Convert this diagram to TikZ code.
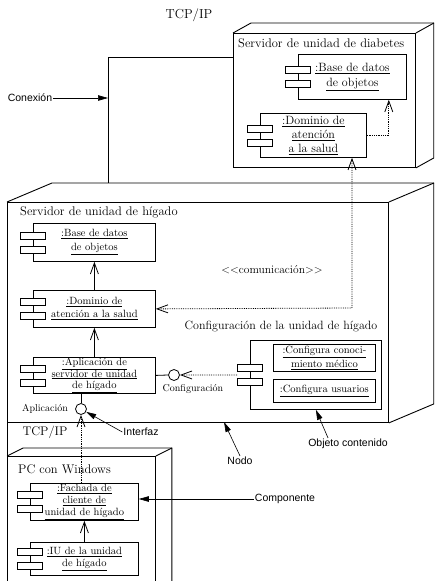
\documentclass[tikz,border=0pt]{standalone}
\usepackage{fontspec}
\newfontfamily\labelfont{Liberation Sans}
\usetikzlibrary{arrows.meta,positioning,calc}

\begin{document}
\begin{tikzpicture}[x=1pt,y=-1pt,
      nodo/.style={draw,line width=0.9pt,anchor=north west,inner sep=0pt},
      back/.style={line width=0.9pt},
      comp/.style={draw,fill=white,line width=0.8pt,anchor=north west,align=center,
                   inner sep=0pt,font=\fontsize{10.5}{11.8}\selectfont},
      bigcomp/.style={comp,font=\fontsize{12}{14.5}\selectfont},
      iconbox/.style={draw,fill=white,line width=0.7pt},
      lolli/.style={circle,draw,fill=white,line width=0.8pt,minimum size=11pt,inner sep=0pt},
      ttl/.style={font=\fontsize{12.5}{15}\selectfont,inner sep=0pt},
      lbl/.style={font=\fontsize{10}{12}\selectfont,inner sep=0pt},
      callout/.style={font=\labelfont\fontsize{10.5}{12}\selectfont,inner sep=1pt},
      dep/.style={densely dotted,line width=0.8pt,-{Straight Barb[length=11pt,width=8pt]}},
      depboth/.style={densely dotted,line width=0.8pt,
                      {Straight Barb[length=11pt,width=8pt]}-{Straight Barb[length=11pt,width=8pt]}},
      dlink/.style={line width=0.8pt,-{Straight Barb[length=11pt,width=8pt]}},
      ptr/.style={line width=0.6pt,-{Triangle[length=10pt,width=5.5pt]}},
    ]
    \useasboundingbox (0,0) rectangle (434,581);
    \clip (0,0) rectangle (434,581);

    % nodes (3d boxes)
    \node[nodo,minimum width=182pt,minimum height=134pt] (diab) at (233,33) {};
    \draw[back] (diab.north west) -- ++(18,-10) -| ($(diab.south east)+(18,-10)$) -- (diab.south east);
    \draw[back] (diab.north east) -- ++(18,-10);

    \node[nodo,minimum width=381pt,minimum height=220pt] (hig) at (7,202) {};
    \draw[back] (hig.north west) -- ++(45,-19) -| ($(hig.south east)+(45,-19)$) -- (hig.south east);
    \draw[back] (hig.north east) -- ++(45,-19);

    \node[nodo,minimum width=148pt,minimum height=160pt] (pc) at (7,456) {};
    \draw[back] (pc.north west) -- ++(16,-8) -| ($(pc.south east)+(16,-8)$) -- (pc.south east);
    \draw[back] (pc.north east) -- ++(16,-8);

    % node titles
    \node[ttl,anchor=west] (tdiab) at (238,43) {Servidor de unidad de diabetes};
    \node[ttl,anchor=west] (thig) at (20,212) {Servidor de unidad de hígado};
    \node[ttl,anchor=west] (tpc) at (18,469) {PC con Windows};
    \node[ttl,font=\fontsize{12}{14}\selectfont] (tconf) at (281,327) {Configuración de la unidad de hígado};

    % components
    \node[bigcomp,minimum width=108pt,minimum height=45pt] (dbase) at (298,54)
          {\underline{:Base de datos}\\\underline{de objetos}};
    \node[bigcomp,minimum width=106pt,minimum height=44pt,font=\fontsize{12}{14}\selectfont] (ddom) at (260,113)
          {\underline{:Dominio de}\\\underline{atención}\\\underline{a la salud}};
    \node[comp,minimum width=122pt,minimum height=38pt,font=\fontsize{10.5}{14}\selectfont] (hbase) at (33,223)
          {\underline{:Base de datos}\\\underline{de objetos}};
    \node[comp,minimum width=122pt,minimum height=37pt,font=\fontsize{10.5}{13}\selectfont] (hdom) at (33,290)
          {\underline{:Dominio de}\\\underline{atención a la salud}};
    \node[comp,minimum width=122pt,minimum height=36pt] (happ) at (33,357)
          {\underline{:Aplicación de}\\\underline{servidor de unidad}\\\underline{de hígado}};
    \node[comp,minimum width=131pt,minimum height=69pt] (conf) at (250,340) {};
    \node[comp,minimum width=102pt,minimum height=27pt,font=\fontsize{10.5}{13.5}\selectfont] (cmed) at (273,344)
          {\underline{:Configura conoci-}\\\underline{miento médico}};
    \node[comp,minimum width=102pt,minimum height=23pt] (cusr) at (273,379)
          {\underline{:Configura usuarios}};
    \node[comp,minimum width=108pt,minimum height=37pt] (fach) at (30,483)
          {\underline{:Fachada de}\\\underline{cliente de}\\\underline{unidad de hígado}};
    \node[comp,minimum width=108pt,minimum height=33pt,font=\fontsize{10.5}{12.5}\selectfont] (iu) at (30,542)
          {\underline{:IU de la unidad}\\\underline{de hígado}};

    % component icons
    \foreach \c in {dbase,ddom,hbase,hdom,happ,conf,fach,iu}{
      \draw[iconbox] ([shift={(-13pt,3.5pt)}]\c.west) rectangle ++(25pt,7pt);
      \draw[iconbox] ([shift={(-13pt,-10.5pt)}]\c.west) rectangle ++(25pt,7pt);
    }

    % interfaces
    \node[lolli] (cfg) at (174,375) {};
    \node[lolli] (apl) at (81,409) {};
    \node[lbl] (lcfg) at (193,389) {Configuración};
    \node[lbl,left=7pt of apl] (lapl) {Aplicación};
    \draw[line width=0.8pt] (happ.east) -- (cfg.west);
    \draw[line width=0.8pt] (happ.south -| apl) -- (apl);

    % dependencies
    \draw[dep] (ddom.east) -| ([xshift=-18pt]dbase.south east);
    \draw[dlink] (hdom) -- (hbase);
    \draw[dlink] (happ) -- (hdom);
    \draw[dlink] (iu) -- (fach);
    \draw[dep] ([xshift=-13pt]conf.west) -- (cfg);
    \draw[dep] (fach.north -| apl) -- (apl);
    \coordinate (com) at (352,308);
    \draw[depboth] (ddom.south -| com) -- (com) -- (hdom.east);
    \node[lbl,font=\fontsize{11.5}{13}\selectfont] (lcom) at (272,270) {<\kern0pt<comunicación>\kern0pt>};

    % connections
    \coordinate (c1) at (233,57);
    \coordinate (c2) at (108,183);
    \draw[line width=0.9pt] (c1) -| (c2);
    \draw[line width=0.9pt] (hig.south west) -- (pc.north west);
    \node[ttl,font=\fontsize{13}{15}\selectfont] (tcp1) at (189,15) {TCP/IP};
    \node[ttl] (tcp2) at (45,432) {TCP/IP};

    % callouts
    \node[callout] (conex) at (30,98) {Conexión};
    \draw[ptr] (conex.east) -- (c2 |- conex.east);
    \node[callout] (intf) at (141,432) {Interfaz};
    \draw[ptr] (intf.west) -- (apl);
    \coordinate (nodop) at (224,422);
    \node[callout] (lnodo) at (240,461) {Nodo};
    \draw[ptr] (lnodo.north) -- (nodop);
    \node[callout] (lobj) at (348,444) {Objeto contenido};
    \draw[ptr] ([xshift=-20pt]lobj.north) -- (conf.south);
    \node[callout] (lcomp) at (285,499) {Componente};
    \draw[ptr] (lcomp.west) -- (fach.east |- lcomp.west);
\end{tikzpicture}
\end{document}
